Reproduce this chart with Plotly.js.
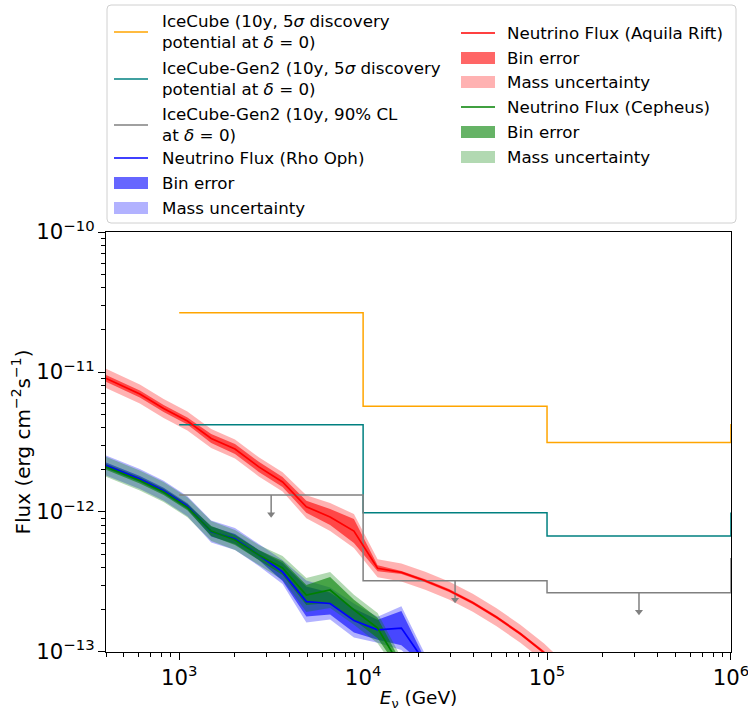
<!DOCTYPE html>
<html>
<head>
<meta charset="utf-8">
<script src="https://cdn.plot.ly/plotly-3.0.1.min.js"></script>
<style>body{margin:0;padding:0;background:#fff;}#chart{width:748px;height:711px;}</style>
</head>
<body>
<div id="chart"></div>
<script>
// ---------------- DATA ----------------
// Energy grid (GeV)
const energy = [337, 454, 611, 823, 1108, 1493, 2011, 2709, 3648, 4913, 6616, 8913, 11990, 16150, 21760, 29310, 39470, 53170, 71610, 96390, 129800];

// Rho Oph (blue)
const fluxRho = [2.35e-12, 2.01e-12, 1.72e-12, 1.42e-12, 1.10e-12, 7.26e-13, 6.41e-13, 4.93e-13, 3.73e-13, 2.29e-13, 2.22e-13, 1.68e-13, 1.44e-13, 1.48e-13, 8.4e-14];
const binErrRho = [1.05, 1.05, 1.05, 1.05, 1.05, 1.086, 1.086, 1.086, 1.16, 1.28, 1.198, 1.218, 1.179, 1.323, 1.05];
const massErrRho = [1.179, 1.179, 1.179, 1.179, 1.179, 1.198, 1.198, 1.198, 1.218, 1.413, 1.301, 1.323, 1.238, 1.436, 1.14];

// Aquila Rift (red)
const fluxAquila = [1.00e-11, 8.34e-12, 6.96e-12, 5.48e-12, 4.47e-12, 3.35e-12, 2.82e-12, 2.10e-12, 1.64e-12, 1.09e-12, 9.21e-13, 7.31e-13, 3.96e-13, 3.70e-13, 3.23e-13, 2.75e-13, 2.25e-13, 1.77e-13, 1.35e-13, 9.9e-14, 6.85e-14];
const binErrAquila = [1.059, 1.059, 1.059, 1.059, 1.059, 1.077, 1.086, 1.086, 1.086, 1.104, 1.14, 1.218, 1.05, 1.025, 1.025, 1.025, 1.025, 1.025, 1.025, 1.025, 1.025];
const massErrAquila = [1.17, 1.17, 1.17, 1.17, 1.17, 1.17, 1.17, 1.17, 1.17, 1.208, 1.259, 1.323, 1.16, 1.16, 1.16, 1.16, 1.16, 1.16, 1.16, 1.16, 1.16];

// Cepheus (green)
const fluxCepheus = [2.30e-12, 1.96e-12, 1.68e-12, 1.39e-12, 1.08e-12, 7.31e-13, 6.31e-13, 4.93e-13, 3.98e-13, 2.55e-13, 2.77e-13, 2.00e-13, 1.48e-13, 7.69e-14];
const binErrCepheus = [1.05, 1.05, 1.05, 1.05, 1.05, 1.086, 1.086, 1.086, 1.122, 1.179, 1.238, 1.179, 1.179, 1.086];
const massErrCepheus = [1.179, 1.179, 1.179, 1.179, 1.179, 1.179, 1.179, 1.179, 1.218, 1.323, 1.345, 1.28, 1.28, 1.179];

// IceCube sensitivities (step lines, bin edges in GeV)
const icEdges = [1e3, 1e4, 1e5, 1e6];
const icDisc = [2.65e-11, 5.69e-12, 3.13e-12, 4.25e-12];
const gen2Disc = [4.20e-12, 9.89e-13, 6.74e-13, 9.9e-13];
const gen2Limit = [1.32e-12, 3.23e-13, 2.65e-13, 4.69e-13];

// ---------------- STYLE ----------------
const FONT = 'DejaVu Sans, Liberation Sans, sans-serif';
const limitArrowFactor = 0.73;

function band(E, f, fac, color) {
  const n = f.length;
  const x = E.slice(0, n);
  const lo = f.map((v, i) => v / fac[i]);
  const hi = f.map((v, i) => v * fac[i]);
  return {
    x: x.concat(x.slice().reverse()),
    y: lo.concat(hi.slice().reverse()),
    type: 'scatter', mode: 'lines', fill: 'toself', fillcolor: color,
    line: {width: 0, color: 'rgba(0,0,0,0)'}, hoverinfo: 'skip', showlegend: false
  };
}
function fluxLine(E, f, color) {
  return {x: E.slice(0, f.length), y: f, type: 'scatter', mode: 'lines',
    line: {color: color, width: 1.7}, showlegend: false};
}
function stepLine(x, y, color) {
  return {x: x, y: y, type: 'scatter', mode: 'lines',
    line: {color: color, width: 1.5, shape: 'hv'}, showlegend: false};
}

const traces = [];
traces.push(band(energy, fluxRho, massErrRho, 'rgba(0,0,255,0.3)'));
traces.push(band(energy, fluxRho, binErrRho, 'rgba(0,0,255,0.6)'));
traces.push(band(energy, fluxAquila, massErrAquila, 'rgba(255,0,0,0.3)'));
traces.push(band(energy, fluxAquila, binErrAquila, 'rgba(255,0,0,0.6)'));
traces.push(band(energy, fluxCepheus, massErrCepheus, 'rgba(0,128,0,0.3)'));
traces.push(band(energy, fluxCepheus, binErrCepheus, 'rgba(0,128,0,0.6)'));
traces.push(stepLine(icEdges, icDisc, '#FFA500'));
traces.push(stepLine(icEdges, gen2Disc, '#008080'));
traces.push(stepLine(icEdges, gen2Limit, '#808080'));
const limX = [], limY = [], tipX = [], tipY = [];
for (let i = 0; i < icEdges.length - 1; i++) {
  const c = Math.sqrt(icEdges[i] * icEdges[i + 1]);
  limX.push(c, c, null);
  limY.push(gen2Limit[i], gen2Limit[i] * limitArrowFactor, null);
  tipX.push(c); tipY.push(gen2Limit[i] * limitArrowFactor);
}
traces.push({x: limX, y: limY, type: 'scatter', mode: 'lines', line: {color: '#808080', width: 1.5}, showlegend: false});
traces.push({x: tipX, y: tipY, type: 'scatter', mode: 'markers', marker: {symbol: 'triangle-down', size: 7, color: '#808080'}, showlegend: false});
traces.push(fluxLine(energy, fluxRho, '#0000FF'));
traces.push(fluxLine(energy, fluxAquila, '#FF0000'));
traces.push(fluxLine(energy, fluxCepheus, '#008000'));

// ---------------- LEGEND (drawn manually, matplotlib-style) ----------------
const PL = 106, PR = 731, PT = 232, PB = 652;
const px2x = p => (p - PL) / (PR - PL);
const px2y = p => (PB - p) / (PB - PT);

const legendItems = [
  [0, 'line', '#FFA500', 32, [['IceCube (10y, 5<i>σ</i> discovery', 21], ['potential at <i>δ</i> = 0)', 42]]],
  [0, 'line', '#008080', 79, [['IceCube-Gen2 (10y, 5<i>σ</i> discovery', 68], ['potential at <i>δ</i> = 0)', 89]]],
  [0, 'line', '#808080', 125, [['IceCube-Gen2 (10y, 90% CL', 114], ['at <i>δ</i> = 0)', 135]]],
  [0, 'line', '#0000FF', 158, [['Neutrino Flux (Rho Oph)', 158]]],
  [0, 'patch', 'rgba(0,0,255,0.6)', 183, [['Bin error', 183]]],
  [0, 'patch', 'rgba(0,0,255,0.3)', 208, [['Mass uncertainty', 208]]],
  [1, 'line', '#FF0000', 33, [['Neutrino Flux (Aquila Rift)', 33]]],
  [1, 'patch', 'rgba(255,0,0,0.6)', 58, [['Bin error', 58]]],
  [1, 'patch', 'rgba(255,0,0,0.3)', 82, [['Mass uncertainty', 82]]],
  [1, 'line', '#008000', 107, [['Neutrino Flux (Cepheus)', 107]]],
  [1, 'patch', 'rgba(0,128,0,0.6)', 132, [['Bin error', 132]]],
  [1, 'patch', 'rgba(0,128,0,0.3)', 157, [['Mass uncertainty', 157]]]
];
const colHandle = [[114, 148], [461, 495]];
const colText = [160, 505];

const shapes = [];
const annotations = [];
(function () {
  const x0 = px2x(107), x1 = px2x(736), y0 = px2y(223), y1 = px2y(5);
  const rx = 4 / (PR - PL), ry = 4 / (PB - PT);
  const path = `M ${x0 + rx},${y0} L ${x1 - rx},${y0} Q ${x1},${y0} ${x1},${y0 + ry} L ${x1},${y1 - ry} Q ${x1},${y1} ${x1 - rx},${y1} L ${x0 + rx},${y1} Q ${x0},${y1} ${x0},${y1 - ry} L ${x0},${y0 + ry} Q ${x0},${y0} ${x0 + rx},${y0} Z`;
  shapes.push({type: 'path', xref: 'paper', yref: 'paper', path: path,
    fillcolor: 'rgba(255,255,255,0.8)', line: {color: '#d0d0d0', width: 1}, layer: 'above'});
})();
legendItems.forEach(it => {
  const [col, kind, color, hy, texts] = it;
  const [hx0, hx1] = colHandle[col];
  if (kind === 'line') {
    shapes.push({type: 'line', xref: 'paper', yref: 'paper', x0: px2x(hx0), x1: px2x(hx1), y0: px2y(hy), y1: px2y(hy),
      line: {color: color, width: 1.7}, layer: 'above'});
  } else {
    shapes.push({type: 'rect', xref: 'paper', yref: 'paper', x0: px2x(hx0), x1: px2x(hx1), y0: px2y(hy - 6), y1: px2y(hy + 6),
      fillcolor: color, line: {width: 0}, layer: 'above'});
  }
  texts.forEach(([t, ty]) => {
    annotations.push({xref: 'paper', yref: 'paper', x: px2x(colText[col]), y: px2y(ty), xanchor: 'left', yanchor: 'middle',
      text: t, showarrow: false, font: {family: FONT, size: 16.7, color: '#000'}});
  });
});

const axisCommon = {
  type: 'log', showgrid: false, zeroline: false, ticks: 'outside', ticklen: 7, tickwidth: 1, tickcolor: '#000',
  linecolor: '#000', linewidth: 1, mirror: true, dtick: 1, exponentformat: 'power', showexponent: 'all',
  ticklabeloverflow: 'allow',
  tickfont: {family: FONT, size: 17, color: '#000'},
  minor: {ticks: 'outside', ticklen: 4, tickwidth: 1, tickcolor: '#000', showgrid: false}
};

const layout = {
  width: 748, height: 711,
  margin: {l: PL, r: 748 - PR, t: PT, b: 711 - PB},
  paper_bgcolor: '#fff', plot_bgcolor: '#fff',
  font: {family: FONT, color: '#000'},
  showlegend: false,
  xaxis: Object.assign({}, axisCommon, {
    range: [Math.log10(400), 6.0003],
    title: {text: '<i>E</i><sub>ν</sub> (GeV)', font: {family: FONT, size: 18.5, color: '#000'}, standoff: 3}
  }),
  yaxis: Object.assign({}, axisCommon, {
    range: [-13.0003, -9.9997],
    title: {text: 'Flux (erg cm<sup>−2</sup>s<sup>−1</sup>)', font: {family: FONT, size: 20, color: '#000'}, standoff: 0}
  }),
  shapes: shapes,
  annotations: annotations
};

Plotly.newPlot('chart', traces, layout, {displayModeBar: false, staticPlot: true});
</script>
</body>
</html>
